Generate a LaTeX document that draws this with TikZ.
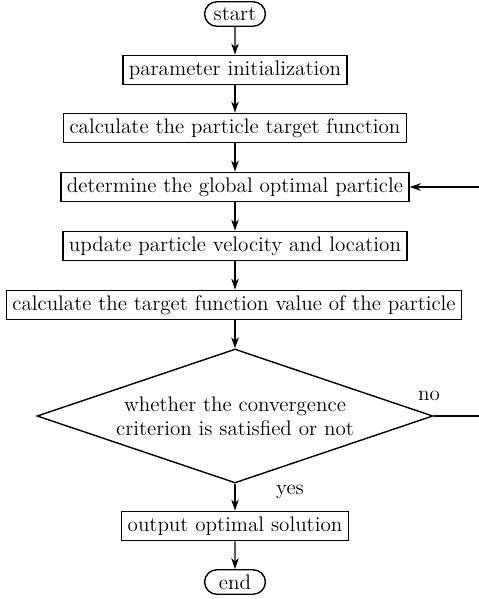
\documentclass[tikz,border=0pt]{standalone}
\usetikzlibrary{arrows.meta,positioning,shapes.geometric,shapes.misc}
\tikzset{>=Stealth,
 every node/.style={font=\fontsize{12}{13.6}\selectfont},
 arr/.style={-{Stealth[length=2.2mm,width=1.5mm]},semithick},
 stepbox/.style={draw,thick,rectangle,minimum height=5.9mm,inner xsep=1.2mm,inner ysep=0pt},
 term/.style={draw,thick,rounded rectangle,minimum width=14.5mm,minimum height=4.9mm,inner ysep=0pt},
 decide/.style={draw,thick,diamond,aspect=2.96,minimum width=7.92cm,minimum height=2.68cm,inner sep=0pt,align=center},
 lbl/.style={inner sep=1pt},
 }
\begin{document}
\begin{tikzpicture}[x=.02cm,y=-.02cm]
 \useasboundingbox (0,0) rectangle (479,599);
 \node[term](start)at(235,14){start};
 \node[stepbox](init)at(235,70){parameter initialization};
 \node[stepbox](fit)at(235,128){calculate the particle target function};
 \node[stepbox](gbest)at(235,187){determine the global optimal particle};
 \node[stepbox](move)at(235,246){update particle velocity and location};
 \node[stepbox](value)at(234,305){calculate the target function value of the particle};
 \node[decide](conv)at(235,416){whether the convergence\\criterion is satisfied or not};
 \node[stepbox](out)at(235,526){output optimal solution};
 \node[term](stop)at(235,582){end};
 \node[lbl](no)at(429,396){no};
 \node[lbl](yes)at(290,492){yes};
 % main flow
 \foreach \a/\b in {start/init,init/fit,fit/gbest,gbest/move,conv/out,out/stop}
  \draw[arr](\a)--(\b);
 \draw[arr](move.south)--(move.south|-value.north);
 \draw[arr](value.south-|conv.north)--(conv.north);
 % back to the global best when not converged
 \coordinate(rim)at(482,187);
 \draw[arr](conv.east)-|(rim)--(gbest.east);
\end{tikzpicture}
\end{document}
